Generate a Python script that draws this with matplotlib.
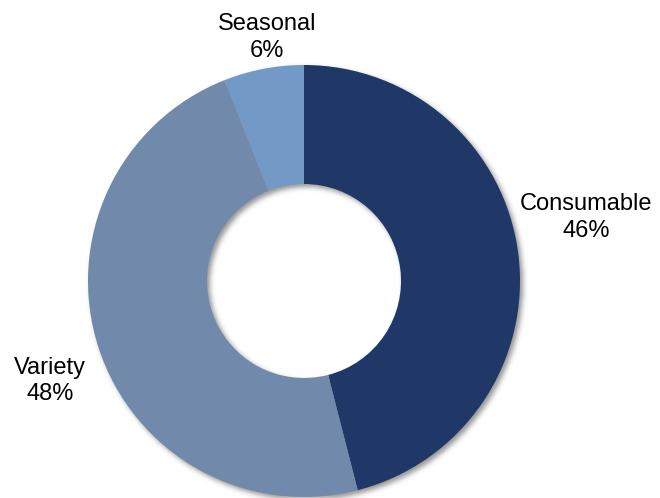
import matplotlib
matplotlib.use("Agg")
import matplotlib.pyplot as plt
import numpy as np

categories = ["Consumable", "Variety", "Seasonal"]
shares = [46, 48, 6]
colors = ["#1F3867", "#7189AA", "#7399C7"]

plt.rcParams["font.family"] = ["Liberation Sans", "DejaVu Sans"]

W, H = 660, 498
fig = plt.figure(figsize=(W / 100, H / 100), dpi=100)
cx, cy, r = 304, 281, 216
r_in = 97

# soft drop shadow of the ring, offset down and to the right
yy, xx = np.mgrid[0:H, 0:W] + 0.5
dist = np.hypot(xx - (cx + 3), yy - (cy + 3))
ring = ((dist <= r) & (dist >= r_in)).astype(float)
k = np.arange(-9, 10)
g = np.exp(-k ** 2 / (2 * 2.6 ** 2))
g /= g.sum()
ring = np.apply_along_axis(lambda v: np.convolve(v, g, mode="same"), 0, ring)
ring = np.apply_along_axis(lambda v: np.convolve(v, g, mode="same"), 1, ring)
shadow = np.zeros((H, W, 4))
shadow[..., :3] = 0.25
shadow[..., 3] = ring * 0.55
fig.figimage(shadow, 0, 0, origin="upper", zorder=0)

ax = fig.add_axes([(cx - r) / W, (H - cy - r) / H, 2 * r / W, 2 * r / H])
ax.set_zorder(5)
ax.patch.set_visible(False)
wedges, _ = ax.pie(shares, colors=colors, startangle=90, counterclock=False,
                   radius=1, wedgeprops=dict(width=1 - r_in / r, linewidth=0))
ax.set_xlim(-1, 1)
ax.set_ylim(-1, 1)
ax.set_aspect("equal")
ax.axis("off")

# label anchors: centre x and baseline of the percentage line
label_pos = {"Consumable": (1.3056, 0.2051), "Variety": (-1.176, -0.5523),
             "Seasonal": (-0.171, 1.0384)}
for name, val in zip(categories, shares):
    x, y = label_pos[name]
    ax.text(x, y, f"{name}\n{val}%", ha="center", va="baseline", fontsize=17,
            color="#000000", linespacing=1.25, clip_on=False)

fig.savefig("out.png", dpi=100)
